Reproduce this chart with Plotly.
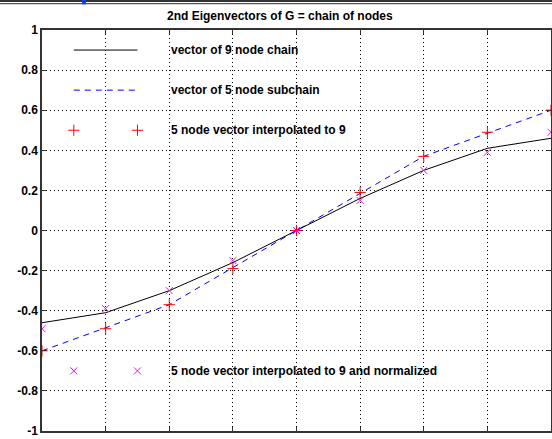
import plotly.graph_objects as go

# ---- data ----
nodes9 = [1, 2, 3, 4, 5, 6, 7, 8, 9]
vec9 = [-0.46, -0.41, -0.30, -0.16, 0.0, 0.16, 0.30, 0.41, 0.46]
nodes5 = [1, 3, 5, 7, 9]
vec5 = [-0.60, -0.37, 0.0, 0.37, 0.60]
interp9 = [-0.60, -0.49, -0.37, -0.19, 0.0, 0.19, 0.37, 0.49, 0.60]
interp9_norm = [-0.49, -0.39, -0.30, -0.15, 0.0, 0.15, 0.30, 0.39, 0.49]

legend_labels = [
    "vector of 9 node chain",
    "vector of 5 node subchain",
    "5 node vector interpolated to 9",
    "5 node vector interpolated to 9 and normalized",
]
legend_rows = [0.9, 0.7, 0.5, -0.7]
legend_sample_x = [1.5, 2.5]
legend_text_x = 3.0

ytick_vals = [-1, -0.8, -0.6, -0.4, -0.2, 0, 0.2, 0.4, 0.6, 0.8, 1]
ytick_text = ["-1", "-0.8", "-0.6", "-0.4", "-0.2", "0", "0.2", "0.4", "0.6", "0.8", "1"]
xtick_vals = [1, 2, 3, 4, 5, 6, 7, 8, 9]

FONT = "Liberation Sans, Arial, sans-serif"
TXT = dict(family=FONT, size=12, color="black", weight="bold")

fig = go.Figure()
fig.add_trace(go.Scatter(x=nodes9, y=vec9, mode="lines",
                         line=dict(color="black", width=1), showlegend=False))
fig.add_trace(go.Scatter(x=nodes5, y=vec5, mode="lines",
                         line=dict(color="blue", width=1, dash="6px,5px"), showlegend=False))
fig.add_trace(go.Scatter(x=nodes9, y=interp9, mode="markers",
                         marker=dict(symbol="cross-thin", size=8, line=dict(color="red", width=1)),
                         showlegend=False))
fig.add_trace(go.Scatter(x=nodes9, y=interp9_norm, mode="markers",
                         marker=dict(symbol="x-thin", size=7, line=dict(color="magenta", width=1)),
                         showlegend=False))

# MATLAB-style legend samples drawn inside the axes
fig.add_trace(go.Scatter(x=legend_sample_x, y=[legend_rows[0]] * 2, mode="lines",
                         line=dict(color="black", width=1), showlegend=False))
fig.add_trace(go.Scatter(x=legend_sample_x, y=[legend_rows[1]] * 2, mode="lines",
                         line=dict(color="blue", width=1, dash="6px,5px"), showlegend=False))
fig.add_trace(go.Scatter(x=legend_sample_x, y=[legend_rows[2]] * 2, mode="markers",
                         marker=dict(symbol="cross-thin", size=8, line=dict(color="red", width=1)),
                         showlegend=False))
fig.add_trace(go.Scatter(x=legend_sample_x, y=[legend_rows[3]] * 2, mode="markers",
                         marker=dict(symbol="x-thin", size=7, line=dict(color="magenta", width=1)),
                         showlegend=False))
for lab, yy in zip(legend_labels, legend_rows):
    fig.add_annotation(x=legend_text_x, y=yy, text=lab, showarrow=False,
                       xanchor="left", yanchor="middle", font=TXT)

axis_common = dict(showgrid=True, gridcolor="black", gridwidth=1, griddash="1px,3px",
                   zeroline=False, showline=True, linecolor="#333333", linewidth=1.5,
                   mirror="ticks", ticks="inside", ticklen=4, tickcolor="#333333",
                   automargin=False, tickfont=TXT)

fig.update_xaxes(range=[1, 9], tickvals=xtick_vals, ticklabelstandoff=3, **axis_common)
fig.update_yaxes(range=[-1, 1], tickvals=ytick_vals, ticktext=ytick_text, **axis_common)

# window-frame artifact at the top of the screenshot
fig.add_shape(type="rect", xref="paper", yref="paper", x0=-0.1, x1=1.1,
              y0=1.0700, y1=1.0760, fillcolor="#333333", line=dict(width=0), layer="above")
fig.add_shape(type="rect", xref="paper", yref="paper", x0=-0.1, x1=1.1,
              y0=1.0640, y1=1.0675, fillcolor="#555555", line=dict(width=0), layer="above")
fig.add_shape(type="rect", xref="paper", yref="paper", x0=0.0787, x1=0.0866,
              y0=1.0640, y1=1.0760, fillcolor="#1040e0", line=dict(width=0), layer="above")

fig.update_layout(
    width=552, height=439,
    margin=dict(l=42, r=1, t=30, b=8),
    paper_bgcolor="white", plot_bgcolor="white",
    title=dict(text="2nd Eigenvectors of G = chain of nodes", x=0.507, xanchor="center",
               y=0.965, yanchor="middle", font=TXT),
    font=TXT,
    showlegend=False,
)

fig.write_html("out.html", config={"displayModeBar": False},
               post_script="document.body.style.margin='0';document.body.style.overflow='hidden';")
